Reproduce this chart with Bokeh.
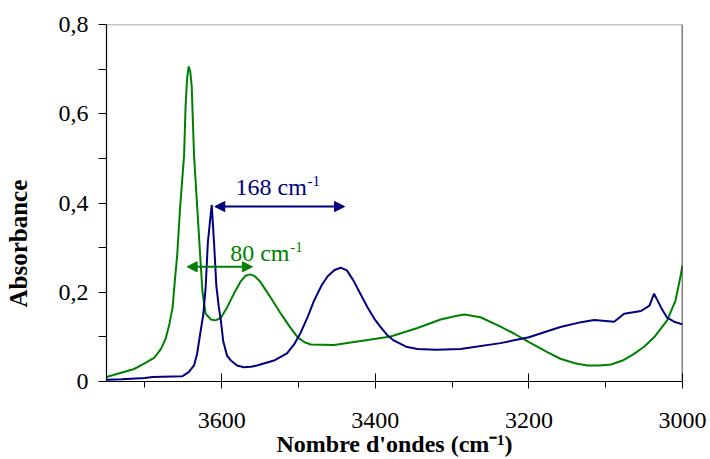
from bokeh.plotting import figure
from bokeh.models import (Range1d, FixedTicker, CustomJSTickFormatter, Span, Label,
                          Arrow, NormalHead, Title)
from bokeh.embed import file_html
from bokeh.resources import INLINE

# ---- data ----
green_x = [3750, 3732, 3714, 3701, 3688, 3679, 3673, 3668, 3664, 3661, 3658, 3654, 3649,
           3647, 3645, 3643, 3641, 3639, 3636, 3632, 3628, 3625, 3621, 3614, 3608, 3601,
           3593, 3584, 3575, 3569, 3563, 3557, 3550, 3545, 3534, 3523, 3512, 3501, 3492,
           3484, 3454, 3410, 3380, 3345, 3315, 3295, 3284, 3263, 3237, 3219, 3200, 3176,
           3159, 3140, 3124, 3108, 3093, 3078, 3063, 3050, 3037, 3020, 3009, 3002, 3000]
green_y = [0.010, 0.019, 0.028, 0.040, 0.053, 0.073, 0.096, 0.129, 0.165, 0.226, 0.282,
           0.394, 0.506, 0.618, 0.680, 0.706, 0.695, 0.660, 0.506, 0.394, 0.282, 0.200,
           0.152, 0.139, 0.137, 0.143, 0.166, 0.197, 0.225, 0.237, 0.240, 0.236, 0.224,
           0.211, 0.182, 0.152, 0.124, 0.099, 0.088, 0.083, 0.082, 0.093, 0.101, 0.120,
           0.139, 0.147, 0.150, 0.144, 0.123, 0.107, 0.088, 0.066, 0.051, 0.041, 0.036,
           0.036, 0.038, 0.047, 0.062, 0.078, 0.099, 0.137, 0.182, 0.241, 0.260]

navy_x = [3750, 3730, 3700, 3690, 3651, 3643, 3636, 3632, 3628, 3624, 3621, 3618, 3613,
          3610, 3607, 3604, 3601, 3598, 3593, 3588, 3580, 3571, 3562, 3554, 3532, 3515,
          3505, 3497, 3488, 3480, 3470, 3462, 3453, 3445, 3437, 3428, 3419, 3410, 3401,
          3393, 3385, 3376, 3360, 3345, 3320, 3289, 3237, 3200, 3159, 3132, 3115, 3089,
          3076, 3054, 3043, 3037, 3028, 3020, 3011, 3000]
navy_y = [0.004, 0.005, 0.008, 0.010, 0.012, 0.021, 0.036, 0.062, 0.107, 0.150, 0.208,
          0.312, 0.396, 0.312, 0.215, 0.170, 0.135, 0.090, 0.058, 0.047, 0.036, 0.032,
          0.033, 0.036, 0.047, 0.063, 0.085, 0.110, 0.145, 0.180, 0.215, 0.236, 0.250,
          0.255, 0.249, 0.225, 0.195, 0.166, 0.140, 0.122, 0.105, 0.092, 0.078, 0.073,
          0.071, 0.073, 0.086, 0.099, 0.122, 0.133, 0.138, 0.134, 0.152, 0.158, 0.170,
          0.197, 0.166, 0.143, 0.134, 0.128]

x_ticks = [3000, 3200, 3400, 3600]
x_minor = [3100, 3300, 3500, 3700]
y_ticks = [0, 0.2, 0.4, 0.6, 0.8]
y_minor = [0.1, 0.3, 0.5, 0.7]

# shift annotations: [from, to, level] and [text, x, y]
navy_shift = [3609, 3440, 0.392]
navy_label = ["168 cm", 3582, 0.435]
green_shift = [3645, 3560, 0.257]
green_label = ["80 cm", 3589, 0.287]

GREEN = "#008000"
NAVY = "#000080"
SERIF = "Liberation Serif, Times New Roman, serif"

p = figure(width=710, height=459, output_backend="svg", toolbar_location=None,
           x_range=Range1d(3750, 3000), y_range=Range1d(0, 0.8),
           min_border_left=106, min_border_right=28, min_border_top=24,
           min_border_bottom=78)
p.outline_line_color = None
p.grid.visible = False
p.background_fill_color = "white"
p.border_fill_color = "white"

# axes
xa = p.xaxis[0]
xa.ticker = FixedTicker(ticks=x_ticks, minor_ticks=x_minor)
xa.major_tick_in = 8
xa.major_tick_out = 7
xa.minor_tick_in = 0
xa.minor_tick_out = 6
xa.major_label_standoff = 24
xa.major_label_text_font = SERIF
xa.major_label_text_font_size = "24px"
xa.major_label_text_line_height = 1.0
xa.major_label_text_color = "black"
xa.axis_label = "Nombre d'ondes (cm\u207b\u00b9)"
xa.axis_label_standoff = 0
xa.axis_label_text_font = SERIF
xa.axis_label_text_font_size = "24px"
xa.axis_label_text_line_height = 1.0
xa.axis_label_text_font_style = "bold"
xa.axis_label_text_color = "black"

ya = p.yaxis[0]
ya.ticker = FixedTicker(ticks=y_ticks, minor_ticks=y_minor)
ya.formatter = CustomJSTickFormatter(
    code="return tick === 0 ? '0' : tick.toFixed(1).replace('.', ',');")
ya.major_tick_in = 0
ya.major_tick_out = 8
ya.minor_tick_in = 0
ya.minor_tick_out = 8
ya.major_label_standoff = 10
ya.major_label_text_font = SERIF
ya.major_label_text_font_size = "24px"
ya.major_label_text_color = "black"

for ax in (xa, ya):
    ax.axis_line_color = "black"
    ax.major_tick_line_color = "black"
    ax.minor_tick_line_color = "black"
    ax.axis_line_width = 1.2

# spacer between the y axis and its title, then the title itself
p.add_layout(Title(text=" ", text_font_size="1px", standoff=15), "left")
p.add_layout(Title(text="Absorbance", align="left", offset=74, standoff=8,
                   vertical_align="top",
                   text_font=SERIF, text_font_size="25px", text_font_style="bold",
                   text_color="black"), "left")

# frame top (grey) and right (black) borders
p.add_layout(Span(location=0.8, dimension="width", line_color="#8a8a8a", line_width=1.5))
p.add_layout(Span(location=3000, dimension="height", line_color="black", line_width=1.5))

# spectra
p.line(green_x, green_y, line_color=GREEN, line_width=2)
p.line(navy_x, navy_y, line_color=NAVY, line_width=2)

# shift arrows
for (xs, xe, lvl), col in ((navy_shift, NAVY), (green_shift, GREEN)):
    p.add_layout(Arrow(x_start=xs, y_start=lvl, x_end=xe, y_end=lvl,
                       line_color=col, line_width=2,
                       start=NormalHead(size=10, fill_color=col, line_color=col),
                       end=NormalHead(size=10, fill_color=col, line_color=col)))

# shift labels with superscript
for (txt, tx, ty), col, w in ((navy_label, NAVY, 72), (green_label, GREEN, 60)):
    p.add_layout(Label(x=tx, y=ty, text=txt, text_color=col, text_font=SERIF,
                       text_font_size="24px", text_align="left",
                       text_baseline="alphabetic"))
    p.add_layout(Label(x=tx, y=ty, text="-1", text_color=col, text_font=SERIF,
                       text_font_size="15px", text_align="left",
                       text_baseline="alphabetic", x_offset=w, y_offset=6))

open("out.html", "w").write(file_html(p, INLINE))
